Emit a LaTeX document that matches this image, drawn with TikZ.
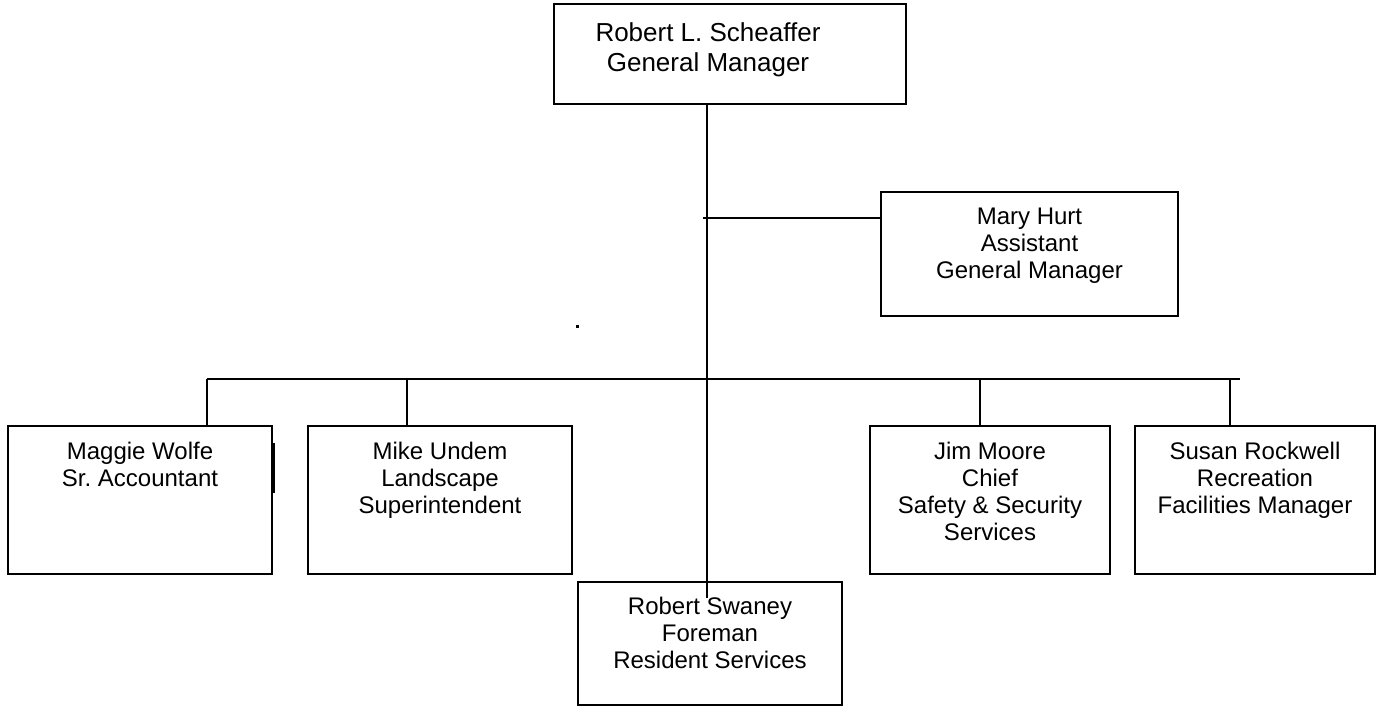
\documentclass[tikz,border=0pt]{standalone}
\usepackage{fontspec}
\setmainfont{Liberation Sans}
\usetikzlibrary{positioning}
\frenchspacing

\begin{document}
\begin{tikzpicture}[x=1pt,y=-1pt,line width=1.8pt,
        post/.style={draw,inner sep=0pt,minimum height=148},
        who/.style={anchor=north,align=center,inner sep=0pt,line width=0pt,font=\fontsize{24}{27}\selectfont}]
        \useasboundingbox (0,0) rectangle (1382,706);
        \node[post,minimum width=352,minimum height=100] (gm) at (730,54) {};
        \node[who,font=\fontsize{26}{30}\selectfont,below=17pt of gm.north,xshift=-22pt] (gm-t) {\strut Robert L. Scheaffer\\General Manager};
        \node[post,minimum width=297,minimum height=124] (hurt) at (1029.5,254) {};
        \node[who,below=14pt of hurt.north] (hurt-t) {\strut Mary Hurt\\Assistant\\General Manager};
        \foreach \n/\x/\w/\t in {wolfe/140/264/{Maggie Wolfe\\Sr. Accountant},
                undem/440/264/{Mike Undem\\Landscape\\Superintendent},
                moore/990/240/{Jim Moore\\Chief\\Safety \& Security\\Services},
                rockwell/1255/240/{Susan Rockwell\\Recreation\\Facilities Manager}} {
            \node[post,minimum width=\w] (\n) at (\x,500) {};
            \node[who,below=15pt of \n.north] (\n-t) {\strut\t};
        }
        \node[post,minimum width=264,minimum height=123] (swaney) at (710,643.5) {};
        \node[who,below=14pt of swaney.north] (swaney-t) {\strut Robert Swaney\\Foreman\\Resident Services};
        \coordinate (trunk) at (707,598);
        \coordinate (tee) at (703,218);
        \coordinate (bus) at (207,379);
        \coordinate (busend) at (1240,379);
        \draw (trunk |- gm.south) -- (trunk);
        \draw (tee) -- (tee -| hurt.west);
        \draw (bus) -- (busend);
        \foreach \n/\x in {wolfe/207,undem/407,moore/980,rockwell/1230}
            \draw (\x,0 |- bus) -- (\x,0 |- \n.north);
        \draw[line width=3.4pt] (wolfe.east |- 0,443) -- (wolfe.east |- 0,493);
        \fill (576,325) rectangle (579,328);
    \end{tikzpicture}
\end{document}
